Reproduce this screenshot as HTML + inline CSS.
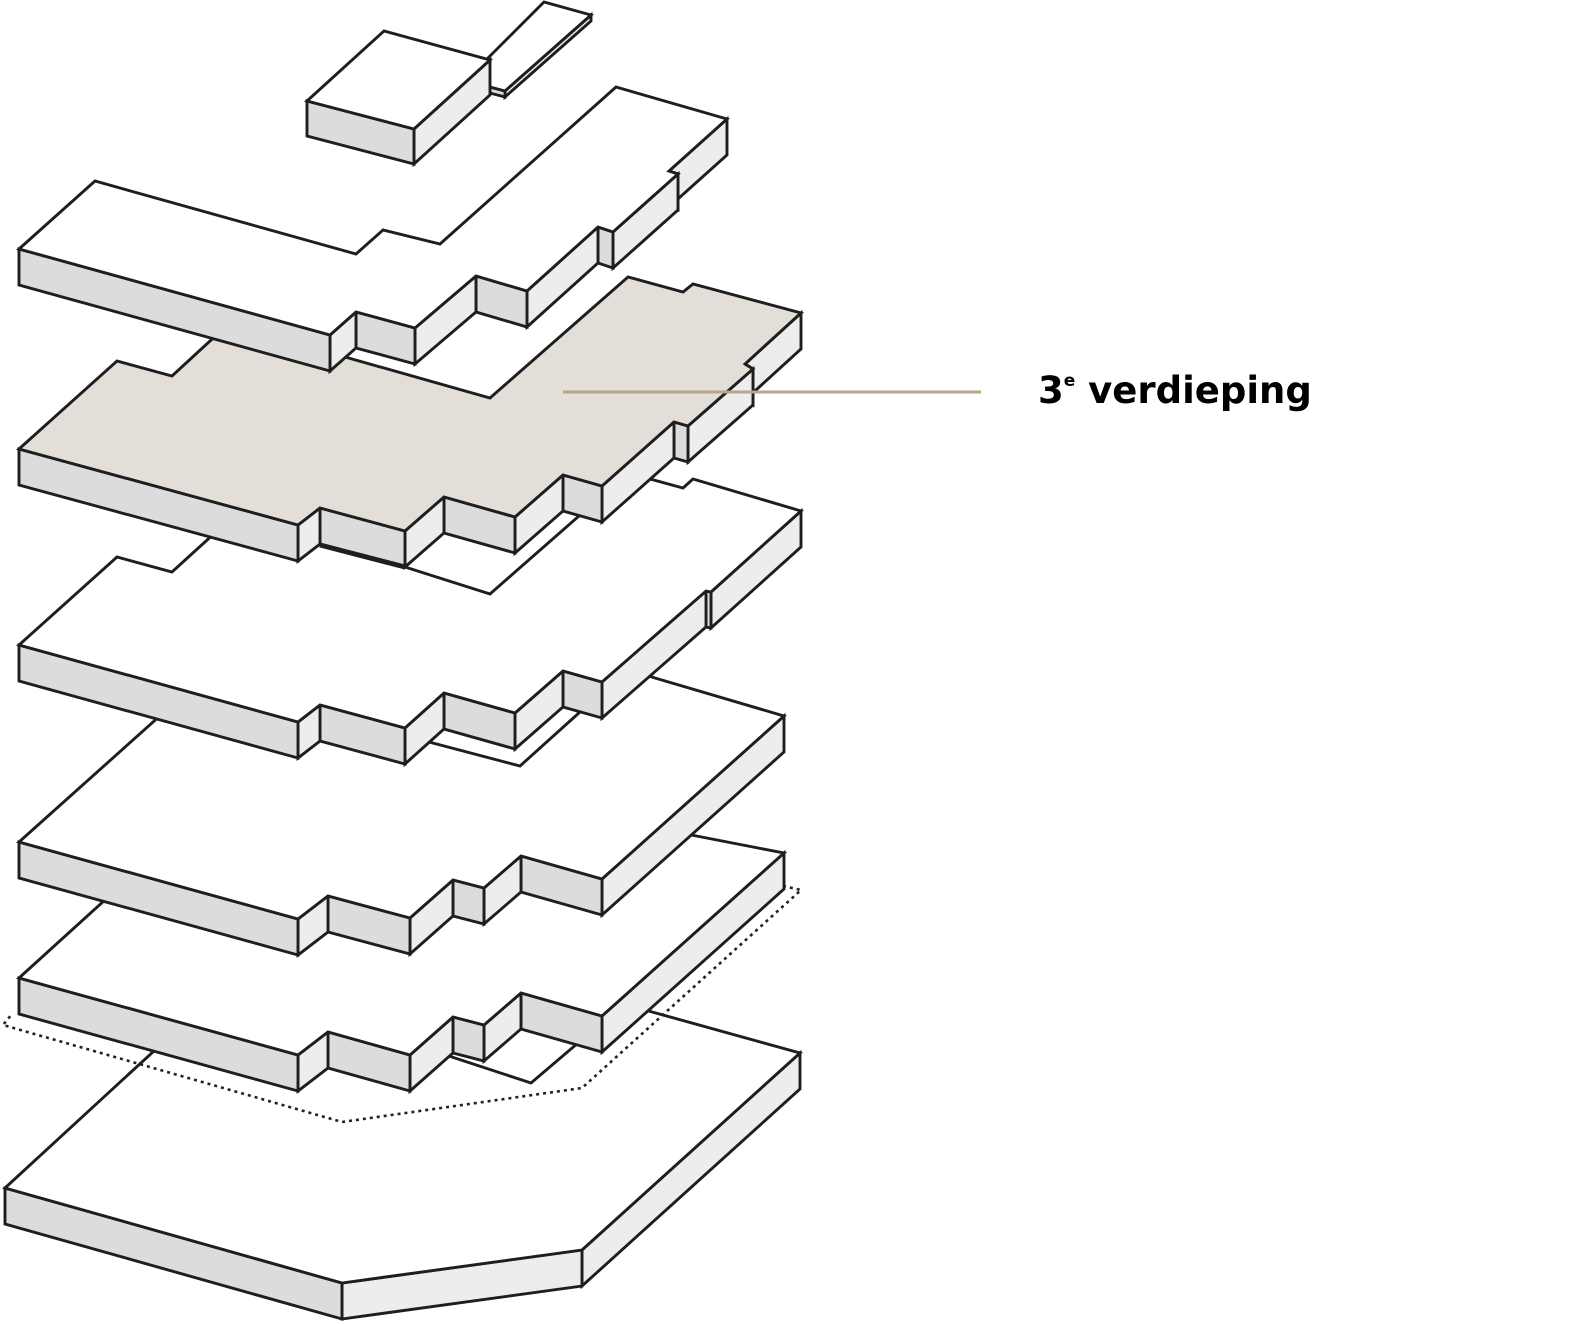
<!DOCTYPE html>
<html><head><meta charset="utf-8">
<style>
html,body{margin:0;padding:0;background:#fff;}
svg{display:block;}
</style></head>
<body>
<svg id="s" width="1573" height="1325" viewBox="0 0 1573 1325" xmlns="http://www.w3.org/2000/svg">
<g id="g" stroke="#1e1e1e" stroke-width="2.9" stroke-linejoin="miter" fill="#fff"></g>
<line x1="563" y1="392" x2="981" y2="392" stroke="#b5a88a" stroke-width="3"/>
<text x="1038" y="403" font-family="'DejaVu Sans', 'Liberation Sans', sans-serif" font-weight="bold" font-size="37" fill="#000">3<tspan font-size="17" dy="-17">e</tspan><tspan dy="17"> verdieping</tspan></text>
</svg>
<script>
var g=document.getElementById('g');var NS='http://www.w3.org/2000/svg';
function poly(pts,fill){var p=document.createElementNS(NS,'polygon');p.setAttribute('points',pts.map(function(a){return a[0]+','+a[1]}).join(' '));p.setAttribute('fill',fill);g.appendChild(p);}
function slab(top,chain,h,fill){
  for(var i=chain.length-2;i>=0;i--){var a=chain[i],b=chain[i+1];
    var dx=b[0]-a[0],dy=b[1]-a[1];var f=(dx>0&&dy>0)||(dx<0&&dy<0)?'#dcdcdc':'#ededed';
    poly([a,b,[b[0],b[1]+h],[a[0],a[1]+h]],f);}
  poly(top,fill);
}
slab([[5,1188],[155,1050],[400,1040],[531,1083],[578,1043],[600,1000],[645,1010],[800,1053],[582,1250],[342,1283]],
     [[5,1188],[342,1283],[582,1250],[800,1053]],36,'#fff');
var pl=document.createElementNS(NS,'polyline');pl.setAttribute('points','783,886 801,890 582,1088 342,1122 3,1025 12,1014');
pl.setAttribute('fill','none');pl.setAttribute('stroke','#222');pl.setAttribute('stroke-width','2.6');pl.setAttribute('stroke-dasharray','3,4');g.appendChild(pl);
slab([[19,978],[160,850],[500,790],[600,815],[645,826],[784,853],[602,1016],[521,993],[484,1025],[453,1017],[410,1055],[328,1032],[298,1055]],
     [[19,978],[298,1055],[328,1032],[410,1055],[453,1017],[484,1025],[521,993],[602,1016],[784,853]],36,'#fff');
slab([[19,842],[200,680],[410,737],[520,766],[580,712],[600,660],[655,678],[784,716],[602,879],[521,856],[484,888],[453,880],[410,918],[328,896],[298,919]],
     [[19,842],[298,919],[328,896],[410,918],[453,880],[484,888],[521,856],[602,879],[784,716]],36,'#fff');
slab([[19,645],[117,557],[172,572],[228,521],[405,567],[490,594],[628,473],[683,488],[693,479],[801,511],[711,592],[706,591],[602,682],[563,671],[515,713],[444,693],[405,728],[320,705],[298,722]],
     [[19,645],[298,722],[320,705],[405,728],[444,693],[515,713],[563,671],[602,682],[706,591],[711,592],[801,511]],36,'#fff');
slab([[19,449],[117,361],[172,376],[210,341],[228,325],[345,357],[490,398],[628,277],[683,292],[693,284],[801,313],[745,364],[753,369],[688,426],[674,422],[602,486],[563,475],[515,517],[444,497],[405,531],[320,508],[298,525]],
     [[19,449],[298,525],[320,508],[405,531],[444,497],[515,517],[563,475],[602,486],[674,422],[688,426],[753,369],[745,364],[801,313]],36,'#e3dfd8');
var ln=document.createElementNS(NS,'line');ln.setAttribute('x1','320');ln.setAttribute('y1','545');ln.setAttribute('x2','405');ln.setAttribute('y2','567');ln.setAttribute('stroke-width','5');g.appendChild(ln);
slab([[19,249],[95,181],[356,254],[383,230],[440,244],[616,87],[727,119],[669,171],[678,174],[613,232],[598,227],[527,291],[476,276],[415,328],[356,312],[330,335]],
     [[19,249],[330,335],[356,312],[415,328],[476,276],[527,291],[598,227],[613,232],[678,174],[669,171],[727,119]],36,'#fff');
slab([[480,66],[544,2],[591,15],[505,91],[490,87]],[[490,87],[505,91],[591,15]],6,'#fff');
slab([[307,101],[384,31],[490,60],[414,129]],[[307,101],[414,129],[490,60]],35,'#fff');
</script>
</body></html>
